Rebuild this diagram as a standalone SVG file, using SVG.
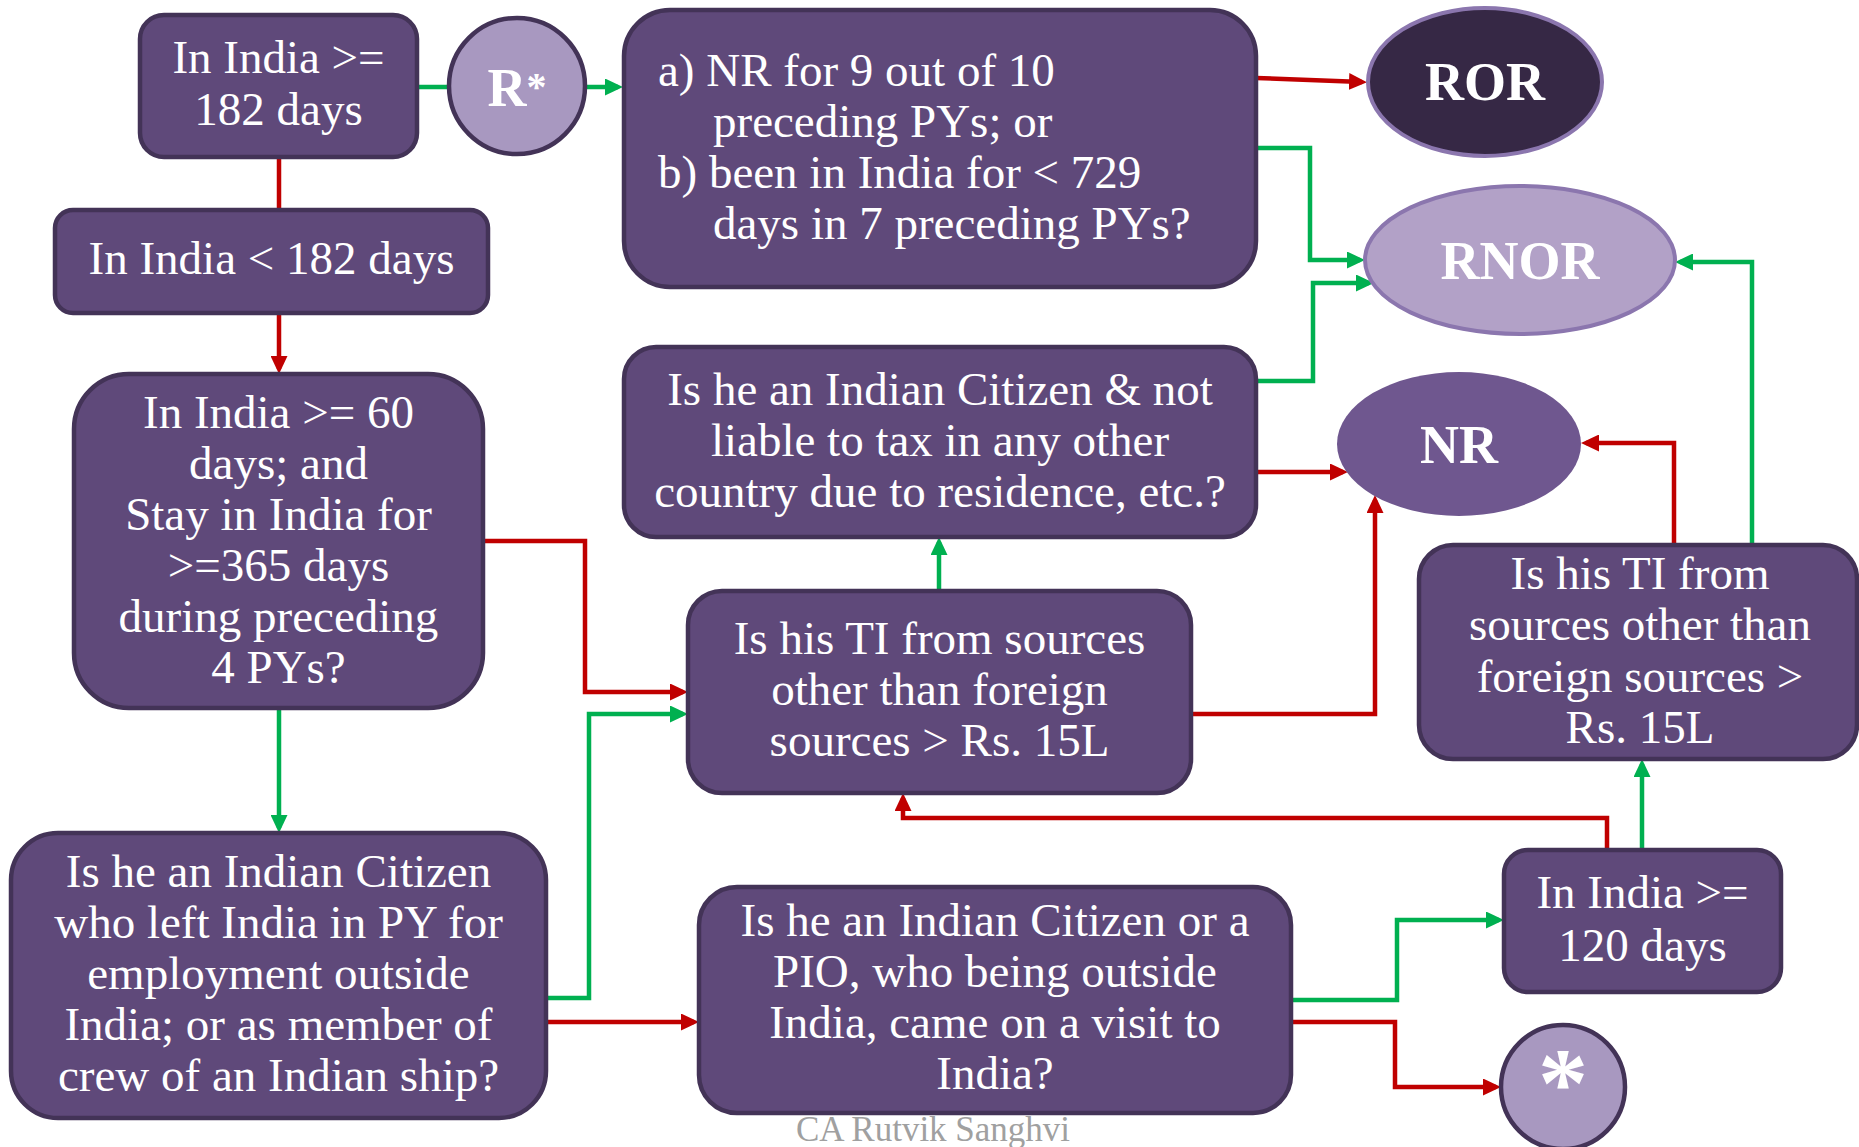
<svg xmlns="http://www.w3.org/2000/svg" width="1859" height="1147" viewBox="0 0 1859 1147">
  <style>
    .box { fill: #5F497A; stroke: #433357; stroke-width: 4.5; }
    .t { font-family: "Liberation Serif", "Times New Roman", serif; font-size: 47px; fill: #FFFFFF; text-anchor: middle; }
    .tl { font-family: "Liberation Serif", "Times New Roman", serif; font-size: 47px; fill: #FFFFFF; }
    .big { font-family: "Liberation Serif", "Times New Roman", serif; font-size: 54px; font-weight: bold; fill: #FFFFFF; text-anchor: middle; }
    .ast { font-family: "Liberation Serif", "Times New Roman", serif; font-size: 100px; font-weight: bold; fill: #FFFFFF; text-anchor: middle; }
    .circ { fill: #A898C0; stroke: #433357; stroke-width: 4.5; }
    .red { fill: none; stroke: #C00000; stroke-width: 4.5; }
    .grn { fill: none; stroke: #00B050; stroke-width: 4.5; }
    .red.arr { marker-end: url(#ahRed); }
    .grn.arr { marker-end: url(#ahGrn); }
    .mark { font-family: "Liberation Serif", "Times New Roman", serif; font-size: 35px; fill: #A0A0A0; text-anchor: middle; }
  </style>
  <defs>
    <marker id="ahRed" viewBox="0 0 18 17" refX="13" refY="8.5" markerWidth="18" markerHeight="17" markerUnits="userSpaceOnUse" orient="auto">
      <path d="M0,0 L18,8.5 L0,17 z" fill="#C00000"/>
    </marker>
    <marker id="ahGrn" viewBox="0 0 18 17" refX="13" refY="8.5" markerWidth="18" markerHeight="17" markerUnits="userSpaceOnUse" orient="auto">
      <path d="M0,0 L18,8.5 L0,17 z" fill="#00B050"/>
    </marker>
  </defs>

  <rect width="1859" height="1147" fill="#FFFFFF"/>

  <!-- connectors -->
  <g id="connectors">
    <path class="grn" d="M417,87 H450"/>
    <path class="grn arr" d="M585,87 H618"/>
    <path class="red" d="M279,157 V211"/>
    <path class="red arr" d="M279,313 V369"/>
    <path class="grn arr" d="M279,708 V828"/>
    <path class="red arr" d="M483,541 H585 V692 H683"/>
    <path class="grn arr" d="M546,998 H589 V714 H683"/>
    <path class="red arr" d="M546,1022 H694"/>
    <path class="red arr" d="M1256,78 L1362,82"/>
    <path class="grn arr" d="M1256,148 H1310 V260 H1360"/>
    <path class="grn arr" d="M1256,381 H1313 V283 H1369"/>
    <path class="red arr" d="M1256,472 H1343"/>
    <path class="red arr" d="M1191,714 H1375 V500"/>
    <path class="grn arr" d="M939,591 V542"/>
    <path class="red arr" d="M1607,850 V818 H903 V798"/>
    <path class="grn arr" d="M1642,850 V764"/>
    <path class="red arr" d="M1674,545 V443 H1586"/>
    <path class="grn arr" d="M1752,545 V262 H1680"/>
    <path class="grn arr" d="M1291,1000 H1397 V920 H1499"/>
    <path class="red arr" d="M1291,1022 H1395 V1087 H1496"/>
  </g>

  <!-- decision boxes -->
  <g id="stay182">
    <rect class="box" x="140" y="15" width="277" height="142" rx="24"/>
    <text class="t" x="278.5" y="73">In India &gt;=</text>
    <text class="t" x="278.5" y="125">182 days</text>
  </g>

  <g id="rStar">
    <circle class="circ" cx="517" cy="86" r="68"/>
    <text class="big" x="517" y="106">R<tspan font-size="40px" dy="-6">*</tspan></text>
  </g>

  <g id="stayLess182">
    <rect class="box" x="55" y="210" width="433" height="103" rx="18"/>
    <text class="t" x="271.5" y="274">In India &lt; 182 days</text>
  </g>

  <g id="stay60">
    <rect class="box" x="74" y="374" width="409" height="334" rx="55"/>
    <text class="t" x="278.5" y="428">In India &gt;= 60</text>
    <text class="t" x="278.5" y="479">days; and</text>
    <text class="t" x="278.5" y="530">Stay in India for</text>
    <text class="t" x="278.5" y="581">&gt;=365 days</text>
    <text class="t" x="278.5" y="632">during preceding</text>
    <text class="t" x="278.5" y="683">4 PYs?</text>
  </g>

  <g id="leftIndia">
    <rect class="box" x="11" y="833" width="535" height="285" rx="47"/>
    <text class="t" x="278.5" y="887">Is he an Indian Citizen</text>
    <text class="t" x="278.5" y="938">who left India in PY for</text>
    <text class="t" x="278.5" y="989">employment outside</text>
    <text class="t" x="278.5" y="1040">India; or as member of</text>
    <text class="t" x="278.5" y="1091">crew of an Indian ship?</text>
  </g>

  <g id="notOrdinary">
    <rect class="box" x="624" y="10" width="632" height="277" rx="46"/>
    <text class="tl" x="658" y="86">a) NR for 9 out of 10</text>
    <text class="tl" x="713" y="137">preceding PYs; or</text>
    <text class="tl" x="658" y="188">b) been in India for &lt; 729</text>
    <text class="tl" x="713" y="239">days in 7 preceding PYs?</text>
  </g>

  <g id="ror">
    <ellipse cx="1485" cy="82" rx="117" ry="74" fill="#362845" stroke="#8B76AE" stroke-width="4"/>
    <text class="big" x="1485" y="100">ROR</text>
  </g>

  <g id="rnor">
    <ellipse cx="1520" cy="260" rx="155" ry="74" fill="#B2A1C7" stroke="#8B76AE" stroke-width="4"/>
    <text class="big" x="1520" y="279">RNOR</text>
  </g>

  <g id="citizenNotLiable">
    <rect class="box" x="624" y="347" width="632" height="190" rx="32"/>
    <text class="t" x="940" y="405">Is he an Indian Citizen &amp; not</text>
    <text class="t" x="940" y="456">liable to tax in any other</text>
    <text class="t" x="940" y="507">country due to residence, etc.?</text>
  </g>

  <g id="nr">
    <ellipse cx="1459" cy="444" rx="122" ry="72" fill="#6F578F"/>
    <text class="big" x="1459" y="463">NR</text>
  </g>

  <g id="income15L">
    <rect class="box" x="688" y="591" width="503" height="202" rx="34"/>
    <text class="t" x="939.5" y="654">Is his TI from sources</text>
    <text class="t" x="939.5" y="705">other than foreign</text>
    <text class="t" x="939.5" y="756">sources &gt; Rs. 15L</text>
  </g>

  <g id="income15LVisit">
    <rect class="box" x="1419" y="545" width="438" height="214" rx="34"/>
    <text class="t" x="1640" y="589">Is his TI from</text>
    <text class="t" x="1640" y="640">sources other than</text>
    <text class="t" x="1640" y="692">foreign sources &gt;</text>
    <text class="t" x="1640" y="743">Rs. 15L</text>
  </g>

  <g id="stay120">
    <rect class="box" x="1504" y="850" width="277" height="142" rx="24"/>
    <text class="t" x="1642.5" y="908">In India &gt;=</text>
    <text class="t" x="1642.5" y="961">120 days</text>
  </g>

  <g id="visitor">
    <rect class="box" x="699" y="887" width="592" height="226" rx="38"/>
    <text class="t" x="995" y="936">Is he an Indian Citizen or a</text>
    <text class="t" x="995" y="987">PIO, who being outside</text>
    <text class="t" x="995" y="1038">India, came on a visit to</text>
    <text class="t" x="995" y="1089">India?</text>
  </g>

  <g id="star">
    <circle class="circ" cx="1563" cy="1087" r="62"/>
    <text class="ast" x="1563" y="1116">*</text>
  </g>

  <text class="mark" x="933" y="1141">CA Rutvik Sanghvi</text>
</svg>
